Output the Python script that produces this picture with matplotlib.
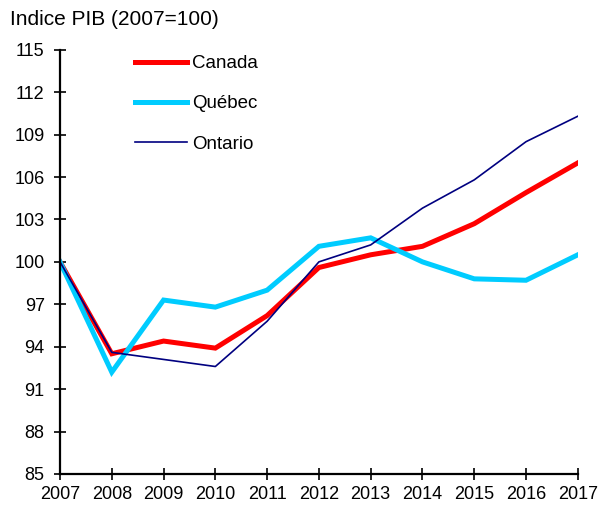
import numpy as np
import matplotlib.pyplot as plt

plt.rcParams['font.family'] = ['Liberation Sans', 'DejaVu Sans']

annees = list(range(2007, 2018))
canada = [100, 93.5, 94.4, 93.9, 96.2, 99.6, 100.5, 101.1, 102.7, 104.9, 107.0]
quebec = [100, 92.2, 97.3, 96.8, 98.0, 101.1, 101.7, 100.0, 98.8, 98.7, 100.5]
ontario = [100, 93.6, 93.1, 92.6, 95.8, 100.0, 101.2, 103.8, 105.8, 108.5, 110.3]

fig = plt.figure(figsize=(6, 5.08), dpi=100)
ax = fig.add_axes([0.1, 0.067, 0.863, 0.835])

ax.plot(annees, canada, color='#FF0000', lw=3.6, label='Canada', solid_joinstyle='miter')
ax.plot(annees, quebec, color='#00CCFF', lw=3.6, label='Québec', solid_joinstyle='miter')
ax.plot(annees, ontario, color='#000080', lw=1.2, label='Ontario')

ax.set_xlim(2007, 2017)
ax.set_ylim(85, 115)
ax.set_xticks(annees)
ax.set_yticks(np.arange(85, 116, 3))
for s in ['top', 'right']:
    ax.spines[s].set_visible(False)
for s in ['left', 'bottom']:
    ax.spines[s].set_linewidth(1.6)
ax.tick_params(direction='inout', length=8, width=1.2, labelsize=13)
ax.tick_params(axis='y', pad=7)
ax.tick_params(axis='x', pad=5)

fig.text(0.017, 0.961, 'Indice PIB (2007=100)', fontsize=15, va='center', ha='left')

ax.legend(loc='upper left', bbox_to_anchor=(0.2125, 0.9065), bbox_transform=fig.transFigure,
          frameon=False, fontsize=13.5, handlelength=2.77, handletextpad=0.27,
          labelspacing=1.24, borderaxespad=0)

fig.savefig('out.png', dpi=100)
